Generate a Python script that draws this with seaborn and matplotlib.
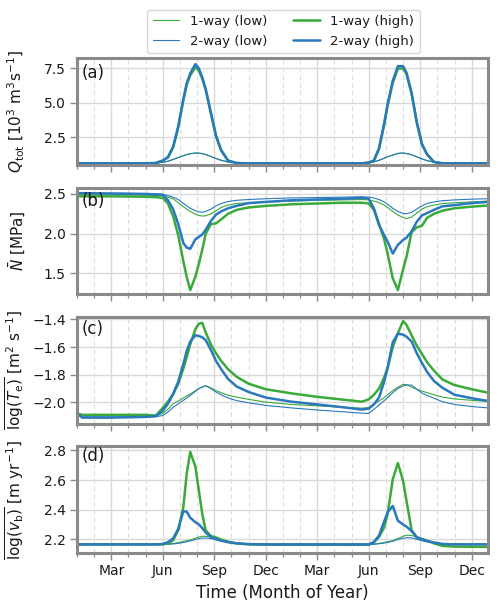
import numpy as np
import matplotlib
matplotlib.use("Agg")
import matplotlib.pyplot as plt
import seaborn as sns

# time axis in months since 1 Jan of year one
t_month = [0.0, 0.3, 2.0, 4.0,
           4.6, 5.0, 5.3, 5.6, 5.9, 6.2, 6.4, 6.6, 6.9, 7.1, 7.3, 7.5, 7.8, 8.1, 8.4, 8.8, 9.3, 10.0, 11.0,
           12.5, 14.0, 15.5, 16.6,
           17.0, 17.3, 17.6, 17.9, 18.1, 18.4, 18.7, 19.0, 19.2, 19.5, 19.8, 20.1, 20.4, 20.8, 21.3, 22.0, 23.0, 23.95]

month_ticks = [2, 5, 8, 11, 14, 17, 20, 23]
month_labels = ["Mar", "Jun", "Sep", "Dec", "Mar", "Jun", "Sep", "Dec"]

# (a) total discharge [10^3 m^3/s]
q_1way_low = [0.6, 0.6, 0.6, 0.6,
              0.62, 0.67, 0.75, 0.88, 1.02, 1.16, 1.24, 1.3, 1.35, 1.34, 1.31, 1.24, 1.1, 0.95, 0.82, 0.7, 0.63, 0.6, 0.6,
              0.6, 0.6, 0.6, 0.6,
              0.64, 0.7, 0.82, 0.97, 1.08, 1.2, 1.32, 1.35, 1.31, 1.22, 1.07, 0.92, 0.8, 0.68, 0.62, 0.6, 0.6, 0.6]
q_2way_low = [0.6, 0.6, 0.6, 0.6,
              0.62, 0.67, 0.75, 0.88, 1.02, 1.16, 1.24, 1.3, 1.35, 1.34, 1.31, 1.24, 1.1, 0.95, 0.82, 0.7, 0.63, 0.6, 0.6,
              0.6, 0.6, 0.6, 0.6,
              0.64, 0.7, 0.82, 0.97, 1.08, 1.2, 1.32, 1.35, 1.31, 1.22, 1.07, 0.92, 0.8, 0.68, 0.62, 0.6, 0.6, 0.6]
q_1way_high = [0.6, 0.6, 0.6, 0.6,
               0.62, 0.8, 1.03, 1.75, 3.2, 5.2, 6.35, 7.0, 7.6, 7.35, 6.75, 5.95, 4.25, 2.6, 1.55, 0.8, 0.62, 0.6, 0.6,
               0.6, 0.6, 0.6, 0.6,
               0.65, 0.8, 1.65, 3.4, 4.8, 6.45, 7.5, 7.5, 7.1, 5.65, 3.55, 2.0, 1.25, 0.7, 0.6, 0.6, 0.6, 0.6]
q_2way_high = [0.6, 0.6, 0.6, 0.6,
               0.62, 0.8, 1.05, 1.8, 3.3, 5.3, 6.45, 7.15, 7.82, 7.5, 6.85, 6.0, 4.3, 2.6, 1.55, 0.8, 0.62, 0.6, 0.6,
               0.6, 0.6, 0.6, 0.6,
               0.65, 0.8, 1.7, 3.5, 4.9, 6.6, 7.67, 7.67, 7.2, 5.7, 3.6, 2.0, 1.25, 0.7, 0.6, 0.6, 0.6, 0.6]

# (b) mean effective pressure [MPa]
n_1way_low = [2.49, 2.49, 2.49, 2.485,
              2.48, 2.475, 2.46, 2.44, 2.39, 2.34, 2.31, 2.28, 2.245, 2.23, 2.222, 2.225, 2.25, 2.29, 2.33, 2.36, 2.38, 2.39, 2.40,
              2.41, 2.42, 2.425, 2.43,
              2.425, 2.41, 2.39, 2.36, 2.33, 2.28, 2.235, 2.205, 2.19, 2.21, 2.26, 2.31, 2.34, 2.36, 2.38, 2.39, 2.40, 2.41]
n_2way_low = [2.51, 2.51, 2.51, 2.505,
              2.50, 2.495, 2.48, 2.46, 2.43, 2.38, 2.35, 2.32, 2.29, 2.275, 2.27, 2.28, 2.31, 2.35, 2.38, 2.405, 2.42, 2.43, 2.44,
              2.45, 2.455, 2.46, 2.465,
              2.46, 2.45, 2.43, 2.40, 2.37, 2.32, 2.28, 2.255, 2.25, 2.27, 2.31, 2.35, 2.38, 2.40, 2.415, 2.425, 2.435, 2.44]
n_1way_high = [2.47, 2.47, 2.47, 2.465,
               2.46, 2.45, 2.38, 2.22, 1.98, 1.65, 1.45, 1.29, 1.46, 1.62, 1.80, 2.0, 2.12, 2.13, 2.18, 2.25, 2.30, 2.33, 2.35,
               2.37, 2.38, 2.39, 2.39,
               2.38, 2.30, 2.12, 1.93, 1.75, 1.44, 1.29, 1.55, 1.71, 2.02, 2.08, 2.10, 2.20, 2.25, 2.29, 2.32, 2.34, 2.355]
n_2way_high = [2.51, 2.51, 2.505, 2.50,
               2.495, 2.49, 2.42, 2.31, 2.12, 1.88, 1.825, 1.81, 1.93, 1.96, 1.99, 2.05, 2.16, 2.24, 2.28, 2.32, 2.35, 2.385, 2.40,
               2.42, 2.43, 2.44, 2.45,
               2.44, 2.32, 2.11, 1.98, 1.90, 1.75, 1.86, 1.92, 1.95, 2.03, 2.15, 2.23, 2.26, 2.30, 2.345, 2.36, 2.385, 2.40]

# (c) mean log transmissivity [m^2/s]
t_1way_low = [-2.085, -2.095, -2.095, -2.095,
              -2.095, -2.08, -2.05, -2.01, -1.99, -1.968, -1.953, -1.94, -1.915, -1.90, -1.89, -1.88, -1.895, -1.915, -1.93, -1.948, -1.962, -1.978, -1.998,
              -2.015, -2.025, -2.035, -2.042,
              -2.037, -2.01, -1.99, -1.965, -1.945, -1.915, -1.89, -1.87, -1.872, -1.89, -1.905, -1.918, -1.93, -1.945, -1.962, -1.975, -1.985, -1.993]
t_2way_low = [-2.08, -2.105, -2.105, -2.103,
              -2.103, -2.095, -2.07, -2.036, -2.01, -1.985, -1.968, -1.95, -1.92, -1.90, -1.887, -1.88, -1.90, -1.925, -1.945, -1.968, -1.987, -2.003, -2.022,
              -2.04, -2.055, -2.068, -2.078,
              -2.08, -2.05, -2.02, -1.988, -1.965, -1.93, -1.90, -1.882, -1.874, -1.875, -1.905, -1.932, -1.95, -1.97, -1.995, -2.015, -2.03, -2.04]
t_1way_high = [-2.08, -2.09, -2.09, -2.09,
               -2.095, -2.04, -1.995, -1.94, -1.865, -1.755, -1.67, -1.58, -1.47, -1.432, -1.425, -1.495, -1.58, -1.645, -1.70, -1.76, -1.815, -1.865, -1.905,
               -1.935, -1.96, -1.98, -1.995,
               -1.978, -1.945, -1.90, -1.82, -1.75, -1.60, -1.50, -1.412, -1.44, -1.515, -1.59, -1.65, -1.71, -1.77, -1.835, -1.875, -1.905, -1.93]
t_2way_high = [-2.08, -2.11, -2.11, -2.105,
               -2.10, -2.06, -2.01, -1.94, -1.85, -1.72, -1.625, -1.56, -1.515, -1.52, -1.53, -1.55, -1.62, -1.70, -1.76, -1.83, -1.885, -1.925, -1.965,
               -1.995, -2.015, -2.035, -2.052,
               -2.045, -2.015, -1.965, -1.85, -1.75, -1.565, -1.503, -1.51, -1.525, -1.56, -1.645, -1.715, -1.78, -1.845, -1.895, -1.945, -1.97, -1.99]

# (d) mean log basal velocity [m/yr]
v_1way_low = [2.165, 2.165, 2.165, 2.165,
              2.165, 2.165, 2.167, 2.171, 2.177, 2.185, 2.19, 2.195, 2.207, 2.215, 2.22, 2.22, 2.215, 2.207, 2.196, 2.185, 2.174, 2.167, 2.165,
              2.165, 2.165, 2.165, 2.165,
              2.165, 2.167, 2.172, 2.178, 2.183, 2.19, 2.205, 2.22, 2.227, 2.225, 2.215, 2.2, 2.188, 2.178, 2.168, 2.167, 2.168, 2.168]
v_2way_low = [2.165, 2.165, 2.165, 2.165,
              2.165, 2.165, 2.166, 2.168, 2.172, 2.178, 2.183, 2.188, 2.198, 2.204, 2.208, 2.209, 2.205, 2.198, 2.19, 2.178, 2.171, 2.167, 2.165,
              2.165, 2.165, 2.165, 2.165,
              2.165, 2.166, 2.169, 2.174, 2.178, 2.186, 2.198, 2.207, 2.21, 2.209, 2.2, 2.19, 2.182, 2.175, 2.169, 2.167, 2.166, 2.166]
v_1way_high = [2.165, 2.165, 2.165, 2.165,
               2.165, 2.165, 2.171, 2.193, 2.26, 2.42, 2.65, 2.79, 2.69, 2.53, 2.37, 2.26, 2.222, 2.212, 2.197, 2.183, 2.172, 2.165, 2.163,
               2.162, 2.162, 2.162, 2.162,
               2.162, 2.18, 2.215, 2.28, 2.37, 2.605, 2.715, 2.595, 2.46, 2.26, 2.213, 2.202, 2.19, 2.172, 2.155, 2.15, 2.149, 2.148]
v_2way_high = [2.165, 2.165, 2.165, 2.165,
               2.165, 2.168, 2.18, 2.205, 2.27, 2.39, 2.385, 2.345, 2.315, 2.30, 2.275, 2.245, 2.215, 2.20, 2.19, 2.18, 2.172, 2.167, 2.165,
               2.165, 2.165, 2.165, 2.165,
               2.165, 2.18, 2.225, 2.32, 2.382, 2.425, 2.325, 2.30, 2.285, 2.255, 2.213, 2.198, 2.188, 2.178, 2.168, 2.165, 2.165, 2.165]

GREEN = "#3aaa3a"
BLUE = "#2a78be"
SPINE = "#8a8a8a"

sns.set_style("whitegrid", {
    "grid.color": "#d9d9d9",
    "axes.edgecolor": SPINE,
    "axes.labelcolor": "#1a1a1a",
    "text.color": "#1a1a1a",
    "xtick.color": "#1a1a1a",
    "ytick.color": "#1a1a1a",
    "xtick.bottom": True,
    "ytick.left": True,
})
plt.rcParams["font.family"] = ["DejaVu Sans"]

panels = [
    ("(a)", [q_1way_low, q_2way_low, q_1way_high, q_2way_high],
     r"$Q_{\rm tot}$ [10$^3$ m$^3$s$^{-1}$]", (0.5, 8.25), [2.5, 5.0, 7.5], 0.865),
    ("(b)", [n_1way_low, n_2way_low, n_1way_high, n_2way_high],
     r"$\bar{N}$ [MPa]", (1.24, 2.58), [1.5, 2.0, 2.5], 0.87),
    ("(c)", [t_1way_low, t_2way_low, t_1way_high, t_2way_high],
     r"$\overline{\log(T_{\rm e})}$ [m$^2$ s$^{-1}$]", (-2.153, -1.383), [-2.0, -1.8, -1.6, -1.4], 0.89),
    ("(d)", [v_1way_low, v_2way_low, v_1way_high, v_2way_high],
     r"$\overline{\log(v_{\rm b})}$ [m yr$^{-1}$]", (2.107, 2.827), [2.2, 2.4, 2.6, 2.8], 0.91),
]

series_names = ["1-way (low)", "2-way (low)", "1-way (high)", "2-way (high)"]
series_colors = [GREEN, BLUE, GREEN, BLUE]
series_widths = [0.8, 0.8, 1.8, 1.8]

fig, axes = plt.subplots(4, 1, figsize=(5.0, 6.06), dpi=100, sharex=True)
fig.subplots_adjust(left=0.154, right=0.976, top=0.904, bottom=0.0875, hspace=0.215)

for ax, (tag, series, ylabel, ylim, yticks, ty) in zip(axes, panels):
    for vals, name, col, lw in zip(series, series_names, series_colors, series_widths):
        sns.lineplot(x=t_month, y=vals, ax=ax, color=col, linewidth=lw, label=name, legend=False)
    ax.set_xlim(0, 23.95)
    ax.set_ylim(*ylim)
    ax.set_yticks(yticks)
    ax.set_xticks(month_ticks)
    ax.set_xticks(np.arange(0, 24), minor=True)
    ax.grid(which="major", color="#d9d9d9", linewidth=1.0, linestyle="-")
    ax.grid(which="minor", axis="x", color="#dcdcdc", linewidth=0.8, linestyle=(0, (4, 3)))
    for sp in ax.spines.values():
        sp.set_color(SPINE)
        sp.set_linewidth(2.2)
    ax.tick_params(axis="both", which="major", length=5, width=1.0, color=SPINE, labelsize=10, pad=3)
    ax.tick_params(axis="x", which="minor", length=3, width=0.9, color=SPINE)
    ax.set_ylabel(ylabel, fontsize=11)
    ax.text(0.012, ty, tag, transform=ax.transAxes, fontsize=12, va="center", ha="left")

axes[-1].set_xticklabels(month_labels)
axes[-1].set_xlabel("Time (Month of Year)", fontsize=12)
fig.align_ylabels(axes)

handles, labels = axes[0].get_legend_handles_labels()
fig.legend(handles, labels, loc="upper center", bbox_to_anchor=(0.567, 0.995), ncol=2,
           fontsize=9.5, frameon=True, edgecolor="#cccccc", columnspacing=2.0, handlelength=2.0)

fig.savefig("out.png", dpi=100)
plt.close(fig)
